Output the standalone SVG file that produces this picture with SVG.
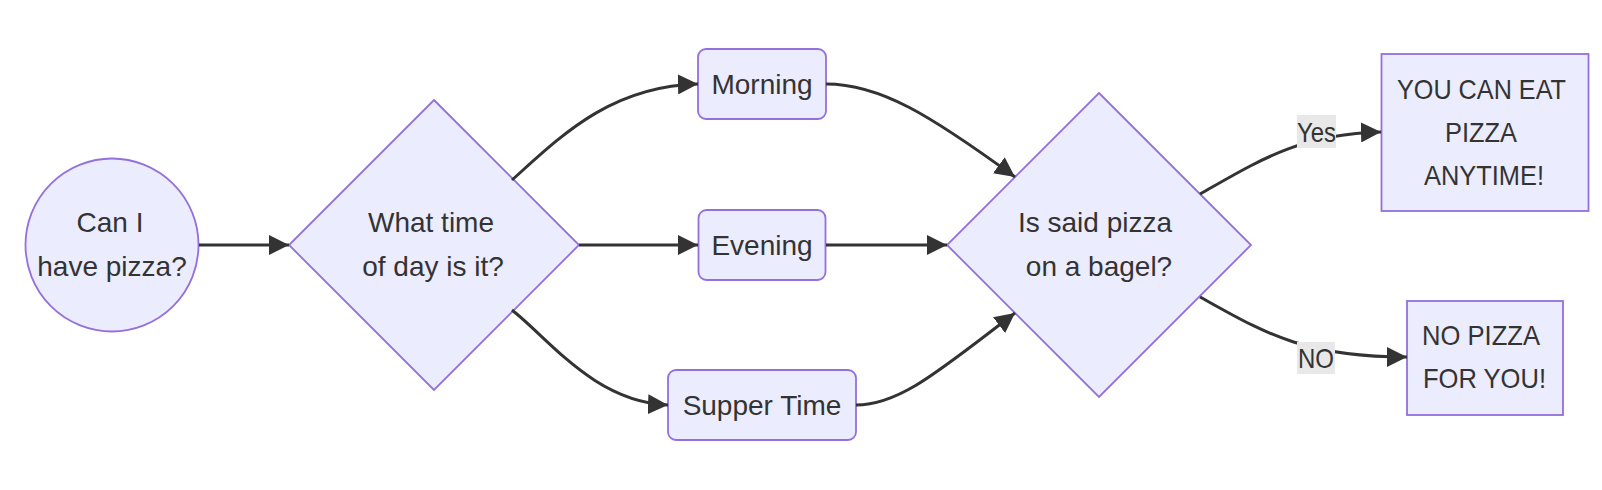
<svg xmlns="http://www.w3.org/2000/svg" width="1602" height="490" viewBox="0 0 1602 490">
<style>
.node{fill:#ECECFF;stroke:#9370DB;stroke-width:1.8}
.t{font-family:"Liberation Sans",Arial,sans-serif;font-size:28px;fill:#333333;text-anchor:middle}
.ts{font-family:"Liberation Sans",Arial,sans-serif;font-size:28px;fill:#333333}
.e{fill:none;stroke:#333333;stroke-width:3;marker-end:url(#arr)}
.lbg{fill:#e8e8e8}
</style>
<defs>
<marker id="arr" viewBox="0 0 10 10" refX="10" refY="5" markerUnits="userSpaceOnUse" markerWidth="20" markerHeight="20" orient="auto">
<path d="M0,0 L10,5 L0,10 z" fill="#333333"/>
</marker>
</defs>
<rect width="1602" height="490" fill="#ffffff"/>
<g id="nodeA">
<circle class="node" cx="112" cy="245" r="86.5"/>
<text class="t" x="110" y="232">Can I</text>
<text class="t" x="112" y="276">have pizza?</text>
</g>
<g id="nodeB">
<polygon class="node" points="434,100 579,245 434,390 289,245"/>
<text class="t" x="431" y="232">What time</text>
<text class="t" x="433" y="276">of day is it?</text>
</g>
<g id="nodeC">
<rect class="node" x="698" y="49" width="128" height="70" rx="8"/>
<text class="t" x="762" y="94">Morning</text>
</g>
<g id="nodeD">
<rect class="node" x="698.5" y="210" width="127" height="70" rx="8"/>
<text class="t" x="762" y="255">Evening</text>
</g>
<g id="nodeE">
<rect class="node" x="668" y="370" width="188" height="70" rx="8"/>
<text class="t" x="762" y="415">Supper Time</text>
</g>
<g id="nodeF">
<polygon class="node" points="1099,93 1251,245 1099,397 947,245"/>
<text class="t" x="1095" y="232">Is said pizza</text>
<text class="t" x="1099" y="276">on a bagel?</text>
</g>
<g id="nodeG">
<rect class="node" x="1381.5" y="54" width="207" height="157"/>
<text class="ts" x="1397" y="99" textLength="169" lengthAdjust="spacingAndGlyphs">YOU CAN EAT</text>
<text class="ts" x="1445" y="142" textLength="72" lengthAdjust="spacingAndGlyphs">PIZZA</text>
<text class="ts" x="1424" y="185" textLength="120" lengthAdjust="spacingAndGlyphs">ANYTIME!</text>
</g>
<g id="nodeH">
<rect class="node" x="1407" y="301" width="156" height="114"/>
<text class="ts" x="1422" y="345" textLength="118" lengthAdjust="spacingAndGlyphs">NO PIZZA</text>
<text class="ts" x="1423" y="388" textLength="123" lengthAdjust="spacingAndGlyphs">FOR YOU!</text>
</g>
<g id="connectors">
<path class="e" d="M199,245 L289,245"/>
<path class="e" d="M512,180 C560,137 610,86 698,84"/>
<path class="e" d="M579,245 L698,245"/>
<path class="e" d="M512,310 C550,340 595,402 668,405"/>
<path class="e" d="M826,84 C880,84 930,115 1015,177"/>
<path class="e" d="M826,245 L947,245"/>
<path class="e" d="M856,405 C900,405 940,370 1015,313"/>
<path class="e" d="M1200,194 C1260,160 1300,134 1381,132"/>
<path class="e" d="M1200,297 C1260,330 1300,357 1407,357"/>
<g id="label-yes">
<rect class="lbg" x="1297" y="115" width="39" height="33"/>
<text class="ts" x="1297" y="142" textLength="39" lengthAdjust="spacingAndGlyphs">Yes</text>
</g>
<g id="label-no">
<rect class="lbg" x="1297" y="342" width="38" height="32"/>
<text class="ts" x="1298" y="368" textLength="36" lengthAdjust="spacingAndGlyphs">NO</text>
</g>
</g>
</svg>
